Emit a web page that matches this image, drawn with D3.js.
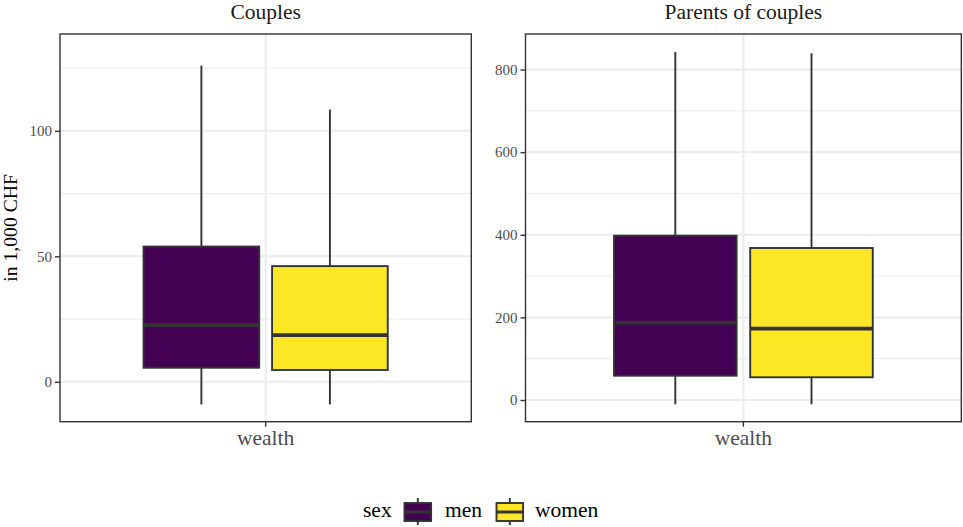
<!DOCTYPE html>
<html>
<head>
<meta charset="utf-8">
<script src="https://cdn.jsdelivr.net/npm/d3@7/dist/d3.min.js"></script>
<style>
  html, body { margin: 0; padding: 0; background: #fff; }
  svg text { font-family: "Liberation Serif", "DejaVu Serif", serif; }
</style>
</head>
<body>
<svg id="chart" width="963" height="527"></svg>
<script>
// ---- data ----
const panels = ["Couples", "Parents of couples"];
const categories = ["men", "women"];
const xCategory = ["wealth"];
// [lower whisker, Q1, median, Q3, upper whisker] in 1,000 CHF
const couplesMen = [-9, 5.6, 22.6, 53.9, 126];
const couplesWomen = [-9, 4.7, 18.6, 46.1, 108.5];
const parentsMen = [-10.4, 58.8, 187.2, 397.8, 842.6];
const parentsWomen = [-10.4, 55, 172.7, 368, 839.4];
const couplesTicks = [0, 50, 100];
const couplesMinor = [25, 75, 125];
const parentsTicks = [0, 200, 400, 600, 800];
const parentsMinor = [100, 300, 500, 700];
const couplesDomain = [-15.9, 138.6];
const parentsDomain = [-52.5, 886];
const colors = ["#440154", "#FDE725"];
const yTitle = "in 1,000 CHF";
const legendTitle = "sex";

const panelData = [
  { title: panels[0], stats: [couplesMen, couplesWomen], ticks: couplesTicks, minor: couplesMinor, domain: couplesDomain, x0: 60, x1: 471.3 },
  { title: panels[1], stats: [parentsMen, parentsWomen], ticks: parentsTicks, minor: parentsMinor, domain: parentsDomain, x0: 525.5, x1: 961.3 }
];

const svg = d3.select("#chart");
const pTop = 34, pBottom = 421.7;
const color = d3.scaleOrdinal().domain(categories).range(colors);
const dark = "#333333";

panelData.forEach(p => {
  const g = svg.append("g");
  const y = d3.scaleLinear().domain(p.domain).range([pBottom, pTop]);
  // discrete x: one category, continuous positions 0.4..1.6
  const xc = d3.scaleLinear().domain([0.4, 1.6]).range([p.x0, p.x1]);
  const xb = d3.scaleBand().domain(xCategory).range([xc(0.4), xc(1.6)]);

  // minor grid
  g.selectAll(".minor").data(p.minor).join("line")
    .attr("x1", p.x0).attr("x2", p.x1)
    .attr("y1", d => y(d)).attr("y2", d => y(d))
    .attr("stroke", "#ebebeb").attr("stroke-width", 1);
  // major grid
  g.selectAll(".major").data(p.ticks).join("line")
    .attr("x1", p.x0).attr("x2", p.x1)
    .attr("y1", d => y(d)).attr("y2", d => y(d))
    .attr("stroke", "#ebebeb").attr("stroke-width", 2);
  g.append("line")
    .attr("x1", xc(1)).attr("x2", xc(1)).attr("y1", pTop).attr("y2", pBottom)
    .attr("stroke", "#ebebeb").attr("stroke-width", 2);

  // boxes
  const boxW = 0.75 / 2 * 0.9;
  p.stats.forEach((s, i) => {
    const cx = 1 - 0.75 / 4 + i * 0.75 / 2;
    const c = color(categories[i]);
    g.append("line")
      .attr("x1", xc(cx)).attr("x2", xc(cx))
      .attr("y1", y(s[3])).attr("y2", y(s[4]))
      .attr("stroke", dark).attr("stroke-width", 1.9);
    g.append("line")
      .attr("x1", xc(cx)).attr("x2", xc(cx))
      .attr("y1", y(s[0])).attr("y2", y(s[1]))
      .attr("stroke", dark).attr("stroke-width", 1.9);
    g.append("rect")
      .attr("x", xc(cx - boxW / 2)).attr("width", xc(cx + boxW / 2) - xc(cx - boxW / 2))
      .attr("y", y(s[3])).attr("height", y(s[1]) - y(s[3]))
      .attr("fill", c).attr("stroke", dark).attr("stroke-width", 1.9);
    g.append("line")
      .attr("x1", xc(cx - boxW / 2)).attr("x2", xc(cx + boxW / 2))
      .attr("y1", y(s[2])).attr("y2", y(s[2]))
      .attr("stroke", dark).attr("stroke-width", 3.6);
  });

  // panel border
  g.append("rect")
    .attr("x", p.x0).attr("y", pTop).attr("width", p.x1 - p.x0).attr("height", pBottom - pTop)
    .attr("fill", "none").attr("stroke", dark).attr("stroke-width", 1.4);

  // y axis
  const yAxis = d3.axisLeft(y).tickValues(p.ticks).tickSize(5).tickPadding(3);
  const ya = g.append("g").attr("transform", `translate(${p.x0},0)`).call(yAxis);
  ya.select(".domain").remove();
  ya.selectAll("line").attr("stroke", dark).attr("stroke-width", 1.4);
  ya.selectAll("text").attr("fill", "#4d4d4d").style("font-size", "15px");

  // x axis
  const xAxis = d3.axisBottom(xb).tickSize(5).tickPadding(3);
  const xa = g.append("g").attr("transform", `translate(0,${pBottom})`).call(xAxis);
  xa.select(".domain").remove();
  xa.selectAll("line").attr("stroke", dark).attr("stroke-width", 1.4);
  xa.selectAll("text").attr("fill", "#4d4d4d").style("font-size", "21.5px");

  // title
  g.append("text")
    .attr("x", (p.x0 + p.x1) / 2).attr("y", 18.5)
    .attr("text-anchor", "middle").style("font-size", "21.5px").attr("fill", "#1a1a1a")
    .text(p.title);
});

// y title
svg.append("text")
  .attr("transform", `translate(16.5,${(pTop + pBottom) / 2}) rotate(-90)`)
  .attr("text-anchor", "middle").style("font-size", "19.7px").attr("fill", "#000")
  .text(yTitle);

// legend
const lg = svg.append("g");
lg.append("text").attr("x", 363).attr("y", 517).style("font-size", "21.5px").attr("fill", "#000").text(legendTitle);
const keyX = [404.5, 496.5];
const labX = [445, 535];
categories.forEach((c, i) => {
  const kx = keyX[i];
  lg.append("line").attr("x1", kx + 13.3).attr("x2", kx + 13.3).attr("y1", 498).attr("y2", 525)
    .attr("stroke", dark).attr("stroke-width", 1.9);
  lg.append("rect").attr("x", kx).attr("y", 503).attr("width", 26.6).attr("height", 18)
    .attr("fill", color(c)).attr("stroke", dark).attr("stroke-width", 1.9);
  lg.append("line").attr("x1", kx).attr("x2", kx + 26.6).attr("y1", 512).attr("y2", 512)
    .attr("stroke", dark).attr("stroke-width", 3);
  lg.append("text").attr("x", labX[i]).attr("y", 517).style("font-size", "21.5px").attr("fill", "#000").text(c);
});
</script>
</body>
</html>
